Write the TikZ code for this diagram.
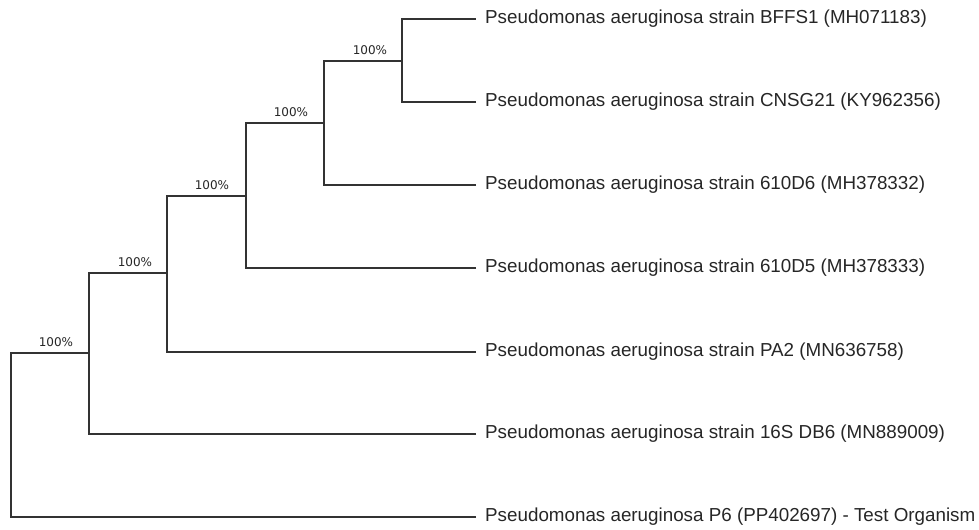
\documentclass[tikz,border=0pt]{standalone}
\usepackage{fontspec}
\setmainfont{Liberation Sans}
\newfontfamily\labfont{DejaVu Sans}
\begin{document}
\begin{tikzpicture}[x=1bp,y=-1bp,
  branch/.style={draw=black!80,line width=1.1bp},
  leaf/.style={anchor=west,inner sep=0pt,font=\fontsize{18.8bp}{20bp}\selectfont,text=black!85},
  boot/.style={anchor=south,inner sep=0pt,font=\labfont\fontsize{12bp}{13bp}\selectfont,text=black!85}]
\useasboundingbox (0,0) rectangle (979,530);
% internal nodes
\coordinate (r) at (11,353);
\coordinate (a) at (89,273);
\coordinate (b) at (167,196);
\coordinate (c) at (246,123);
\coordinate (d) at (324,61);
\coordinate (e) at (402,19);
% leaf ends
\coordinate (t1) at (476,19);
\coordinate (t2) at (476,102);
\coordinate (t3) at (476,185);
\coordinate (t4) at (476,268);
\coordinate (t5) at (476,352);
\coordinate (t6) at (476,434);
\coordinate (t7) at (476,517);
% labels
\node[leaf] (l1) at (485,19) {Pseudomonas aeruginosa strain BFFS1 (MH071183)};
\node[leaf] (l2) at (485,102) {Pseudomonas aeruginosa strain CNSG21 (KY962356)};
\node[leaf] (l3) at (485,185) {Pseudomonas aeruginosa strain 610D6 (MH378332)};
\node[leaf] (l4) at (485,268) {Pseudomonas aeruginosa strain 610D5 (MH378333)};
\node[leaf] (l5) at (485,352) {Pseudomonas aeruginosa strain PA2 (MN636758)};
\node[leaf] (l6) at (485,434) {Pseudomonas aeruginosa strain 16S DB6 (MN889009)};
\node[leaf] (l7) at (485,517) {Pseudomonas aeruginosa P6 (PP402697) - Test Organism};
% tree
\draw[branch] (t7) -| (r) -- (89,353);
\draw[branch] (t6) -| (a) -- (167,273);
\draw[branch] (a) |- (89,353);
\draw[branch] (t5) -| (b) -- (246,196);
\draw[branch] (t4) -| (c) -- (324,123);
\draw[branch] (c) |- (246,196);
\draw[branch] (t3) -| (d) -- (402,61);
\draw[branch] (t2) -| (e) -- (t1);
\draw[branch] (d) |- (402,61);
\draw[branch] (b) |- (167,273);
% bootstrap values
\node[boot] (b1) at (56,347) {100\%};
\node[boot] (b2) at (135,267) {100\%};
\node[boot] (b3) at (212,190) {100\%};
\node[boot] (b4) at (291,117) {100\%};
\node[boot] (b5) at (370,55) {100\%};
\end{tikzpicture}
\end{document}
